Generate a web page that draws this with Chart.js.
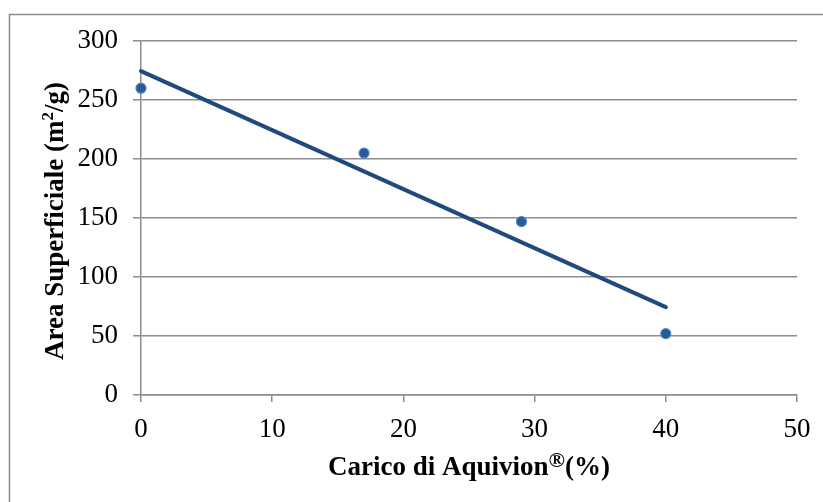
<!DOCTYPE html>
<html>
<head>
<meta charset="utf-8">
<script src="https://cdn.jsdelivr.net/npm/chart.js@4"></script>
<style>
  html, body { margin: 0; padding: 0; background: #fff; }
  #wrap { position: relative; width: 823px; height: 502px; }
</style>
</head>
<body>
<div id="wrap"><canvas id="c" width="823" height="502"></canvas></div>
<script>
// Measured surface area versus Aquivion loading
const loading = [0, 17, 29, 40];
const surfaceArea = [260, 205, 147, 52];

// Linear trend line end points
const trendX = [0, 40];
const trendY = [274.5, 74.5];

const xTicks = [0, 10, 20, 30, 40, 50];
const yTicks = [0, 50, 100, 150, 200, 250, 300];

const serif = "'Liberation Serif', 'Times New Roman', serif";

// Frame around the whole chart (right and bottom edges run off the canvas)
const framePlugin = {
  id: 'frame',
  beforeDraw(chart) {
    const ctx = chart.ctx;
    ctx.save();
    ctx.fillStyle = '#fff';
    ctx.fillRect(0, 0, chart.width, chart.height);
    ctx.strokeStyle = '#8c8c8c';
    ctx.lineWidth = 1.5;
    ctx.strokeRect(9.5, 14.5, 900, 600);
    ctx.restore();
  }
};

// Axis titles with superscripts
function drawRich(ctx, parts, size) {
  let total = 0;
  const fontFor = p => `bold ${p.sup ? Math.round(size * p.sup) : size}px ${serif}`;
  const widths = parts.map(p => {
    ctx.font = fontFor(p);
    const w = ctx.measureText(p.t).width;
    total += w;
    return w;
  });
  let x = -total / 2;
  parts.forEach((p, i) => {
    ctx.font = fontFor(p);
    ctx.fillText(p.t, x, p.sup ? -size * (p.rise || 0.36) : 0);
    x += widths[i];
  });
}

const titlePlugin = {
  id: 'richTitles',
  afterDraw(chart) {
    const ctx = chart.ctx;
    const area = chart.chartArea;
    ctx.save();
    ctx.fillStyle = '#000';
    ctx.textBaseline = 'alphabetic';
    ctx.textAlign = 'left';
    // x axis title
    ctx.save();
    ctx.translate((area.left + area.right) / 2, 475);
    drawRich(ctx, [{t: 'Carico di Aquivion'}, {t: '®', sup: 0.8, rise: 0.3}, {t: '(%)'}], 27);
    ctx.restore();
    // y axis title
    ctx.save();
    ctx.translate(63, (area.top + area.bottom) / 2 + 3);
    ctx.rotate(-Math.PI / 2);
    drawRich(ctx, [{t: 'Area Superficiale (m'}, {t: '2', sup: 0.62}, {t: '/g)'}], 27);
    ctx.restore();
    ctx.restore();
  }
};

new Chart(document.getElementById('c'), {
  type: 'scatter',
  data: {
    datasets: [
      {
        label: 'Area superficiale',
        data: loading.map((x, i) => ({x, y: surfaceArea[i]})),
        pointRadius: 5,
        pointBackgroundColor: '#2a5b97',
        pointBorderColor: '#4f81bd',
        pointBorderWidth: 1.2,
        showLine: false,
        clip: false,
        order: 1
      },
      {
        label: 'Lineare',
        data: trendX.map((x, i) => ({x, y: trendY[i]})),
        showLine: true,
        borderColor: '#1f4a7e',
        borderWidth: 4,
        pointRadius: 0,
        borderCapStyle: 'round',
        clip: false,
        order: 2
      }
    ]
  },
  options: {
    responsive: false,
    animation: false,
    devicePixelRatio: 1,
    layout: { padding: { left: 0, right: 26, top: 41, bottom: 0 } },
    plugins: {
      legend: { display: false },
      tooltip: { enabled: false }
    },
    scales: {
      x: {
        type: 'linear',
        min: 0, max: 50,
        afterBuildTicks: s => { s.ticks = xTicks.map(v => ({value: v})); },
        afterFit: s => { s.height = 107; },
        grid: {
          display: true,
          drawOnChartArea: false,
          drawTicks: true,
          tickLength: 7,
          color: '#8c8c8c',
          lineWidth: 1.5
        },
        border: { display: true, color: '#8c8c8c', width: 1.5 },
        ticks: {
          color: '#000',
          font: { family: serif, size: 27 },
          padding: 12,
          maxRotation: 0
        },
        title: { display: false }
      },
      y: {
        type: 'linear',
        min: 0, max: 300,
        afterBuildTicks: s => { s.ticks = yTicks.map(v => ({value: v})); },
        afterFit: s => { s.width = 141; },
        grid: {
          display: true,
          drawOnChartArea: true,
          drawTicks: true,
          tickLength: 8,
          color: '#8c8c8c',
          lineWidth: 1.5
        },
        border: { display: true, color: '#8c8c8c', width: 1.5 },
        ticks: {
          color: '#000',
          font: { family: serif, size: 27 },
          padding: 15
        },
        title: { display: false }
      }
    }
  },
  plugins: [framePlugin, titlePlugin]
});
</script>
</body>
</html>
